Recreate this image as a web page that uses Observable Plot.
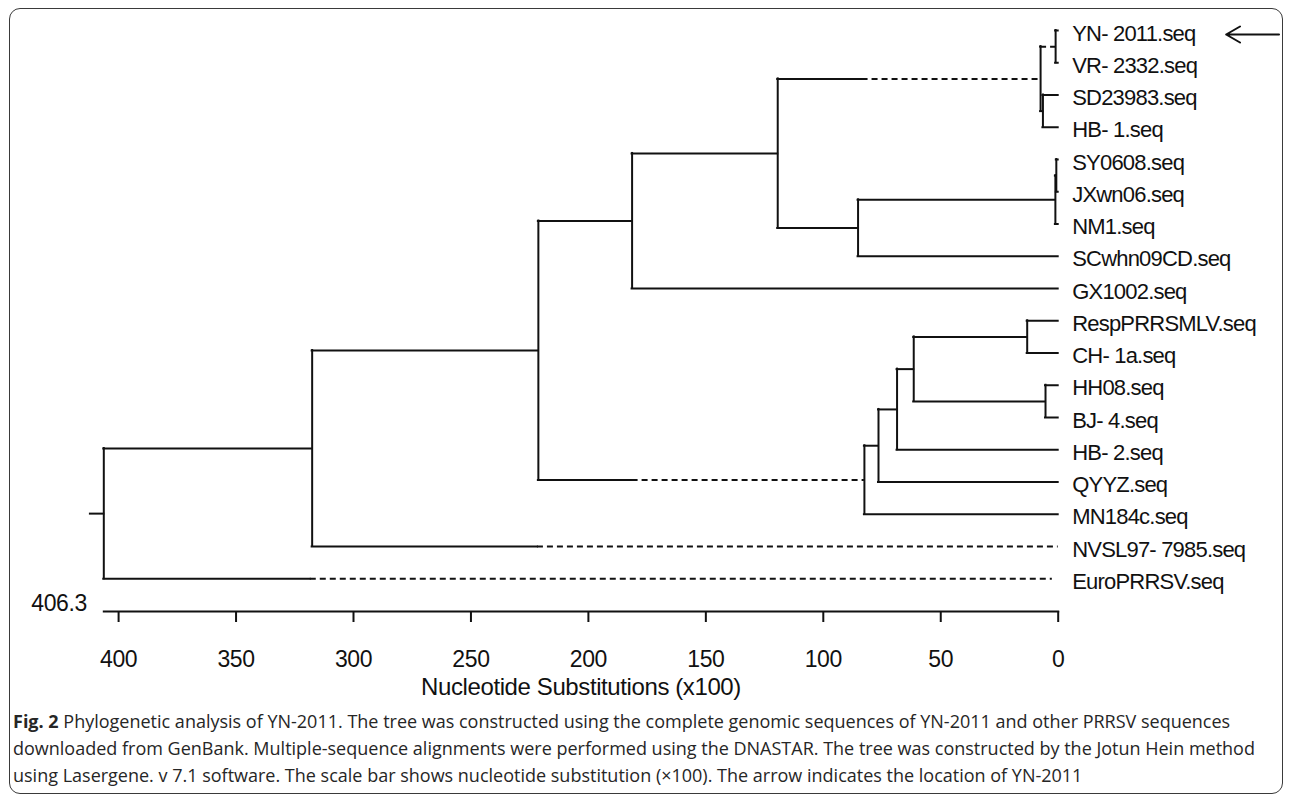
<!DOCTYPE html>
<html><head><meta charset="utf-8">
<script src="https://cdn.jsdelivr.net/npm/d3@7"></script>
<script src="https://cdn.jsdelivr.net/npm/@observablehq/plot@0.6"></script>
<style>
html,body{margin:0;padding:0;background:#fff;}
#page{position:relative;width:1292px;height:799px;overflow:hidden;background:#fff;}
#box{position:absolute;left:9px;top:8px;width:1274px;height:786px;border:1.6px solid #3a3a3a;border-radius:11px;box-sizing:border-box;pointer-events:none;}
#chart{position:absolute;left:0;top:0;}
#chart svg text{letter-spacing:-0.4px;}
#caption{position:absolute;left:13px;top:708px;font-family:"Open Sans",sans-serif;font-size:18px;line-height:27px;color:#262626;white-space:nowrap;}
</style></head><body>
<div id="page">
<div id="chart"></div>
<div id="caption"><b>Fig. 2</b> Phylogenetic analysis of YN-2011. The tree was constructed using the complete genomic sequences of YN-2011 and other PRRSV sequences<br>downloaded from GenBank. Multiple-sequence alignments were performed using the DNASTAR. The tree was constructed by the Jotun Hein method<br>using Lasergene. v 7.1 software. The scale bar shows nucleotide substitution (×100). The arrow indicates the location of YN-2011</div>
<div id="box"></div>
</div>
<script>
// ---- data ----
const leafNames = ["YN- 2011.seq","VR- 2332.seq","SD23983.seq","HB- 1.seq","SY0608.seq","JXwn06.seq","NM1.seq","SCwhn09CD.seq","GX1002.seq","RespPRRSMLV.seq","CH- 1a.seq","HH08.seq","BJ- 4.seq","HB- 2.seq","QYYZ.seq","MN184c.seq","NVSL97- 7985.seq","EuroPRRSV.seq"];
const leafDepth = [0,0,0,0,0,0,0,0,0,0,0,0,0,0,0,0,0,2.5];
// internal nodes: id, children (leaf index or node id), depth (nucleotide substitutions x100)
const nodeIds =      ["root","A","B","R","Q","N1","N2","N4","P","S1","S2","L1","L2","L3","L4","L5","L6"];
const nodeChildren = [["A",17],["B",16],["R","L1"],["Q",8],["N1","P"],["N2","N4"],[0,1],[2,3],["S1",7],["S2",6],[4,5],["L2",15],["L3",14],["L4",13],["L5","L6"],[9,10],[11,12]];
const nodeDepth =    [406.3,317.6,221.3,181.4,119.4,7.5,1.1,6.5,85.2,1.2,0.8,82.5,76.5,68.6,61.5,13.2,5.4];
// branches drawn partly dashed: node and depth where the dashes begin
const dashedNodes = ["N1","N2","L1",16,17];
const dashStart =   [83.5,7.5,181.4,221.7,318.4];
const rootStub = 412;
const axisMax = 406.3;
const axisTicks = [400,350,300,250,200,150,100,50,0];
const axisTitle = "Nucleotide Substitutions (x100)";
const markedLeaf = 0;          // YN-2011, indicated by the arrow
const arrowTail = -94, arrowHead = -71.5;

// ---- layout from tree structure ----
const depth = new Map(), parent = new Map(), yPos = new Map();
leafNames.forEach((n, i) => { depth.set(i, leafDepth[i]); yPos.set(i, i); });
nodeIds.forEach((id, k) => { depth.set(id, nodeDepth[k]); nodeChildren[k].forEach(c => parent.set(c, id)); });
function getY(id) {
  if (yPos.has(id)) return yPos.get(id);
  const ch = nodeChildren[nodeIds.indexOf(id)];
  const y = (getY(ch[0]) + getY(ch[ch.length - 1])) / 2;
  yPos.set(id, y);
  return y;
}
nodeIds.forEach(getY);
const solid = [], dashed = [], verticals = [];
for (const id of [...leafNames.map((_, i) => i), ...nodeIds]) {
  const y = yPos.get(id);
  const px = id === "root" ? rootStub : depth.get(parent.get(id));
  const j = dashedNodes.indexOf(id);
  if (j >= 0) {
    solid.push({y, x1: px, x2: dashStart[j]});
    dashed.push({y, x1: dashStart[j], x2: depth.get(id)});
  } else solid.push({y, x1: px, x2: depth.get(id)});
}
nodeIds.forEach((id, k) => {
  const ch = nodeChildren[k];
  verticals.push({x: depth.get(id), y1: yPos.get(ch[0]), y2: yPos.get(ch[ch.length - 1])});
});
const leaves = leafNames.map((name, i) => ({name, y: i}));

const chart = Plot.plot({
  width: 1292, height: 700,
  marginLeft: 103.3, marginRight: 234.3, marginTop: 20, marginBottom: 89,
  style: {fontFamily: "'Liberation Sans', Arial, sans-serif", fontSize: "23px", color: "#111", background: "transparent"},
  x: {domain: [axisMax, 0]},
  y: {domain: [0, 17], range: [30, 578.25], axis: null},
  marks: [
    Plot.frame({anchor: "bottom", strokeWidth: 2, stroke: "#111"}),
    Plot.axisX({ticks: axisTicks, tickSize: 11, tickPadding: 28, strokeWidth: 2, fontSize: 23, label: null, tickFormat: d => d}),
    Plot.text([axisMax], {x: d => d, frameAnchor: "bottom", lineAnchor: "middle", textAnchor: "end", dx: -17, dy: -8, fontSize: 23, fill: "#111"}),
    Plot.text([axisTitle], {frameAnchor: "bottom", lineAnchor: "middle", dy: 76, fontSize: 24, fill: "#111", text: d => d}),
    Plot.ruleY(solid, {y: "y", x1: "x1", x2: "x2", stroke: "#111", strokeWidth: 2, strokeLinecap: "square"}),
    Plot.ruleY(dashed, {y: "y", x1: "x1", x2: "x2", stroke: "#111", strokeWidth: 2, strokeDasharray: "6,4"}),
    Plot.ruleX(verticals, {x: "x", y1: "y1", y2: "y2", stroke: "#111", strokeWidth: 2, strokeLinecap: "square"}),
    Plot.text(leaves, {x: () => 0, y: "y", text: "name", textAnchor: "start", dx: 14, dy: 3, fontSize: 22, fill: "#111"}),
    Plot.arrow([markedLeaf], {x1: arrowTail, x2: arrowHead, y1: d => d, y2: d => d, dy: 4, stroke: "#111", strokeWidth: 2, headLength: 12})
  ]
});
d3.select(chart).selectAll("text")
  .filter(function() { return leafNames.includes(this.textContent); })
  .style("letter-spacing", "-0.8px");
document.getElementById("chart").appendChild(chart);
</script>
</body></html>
